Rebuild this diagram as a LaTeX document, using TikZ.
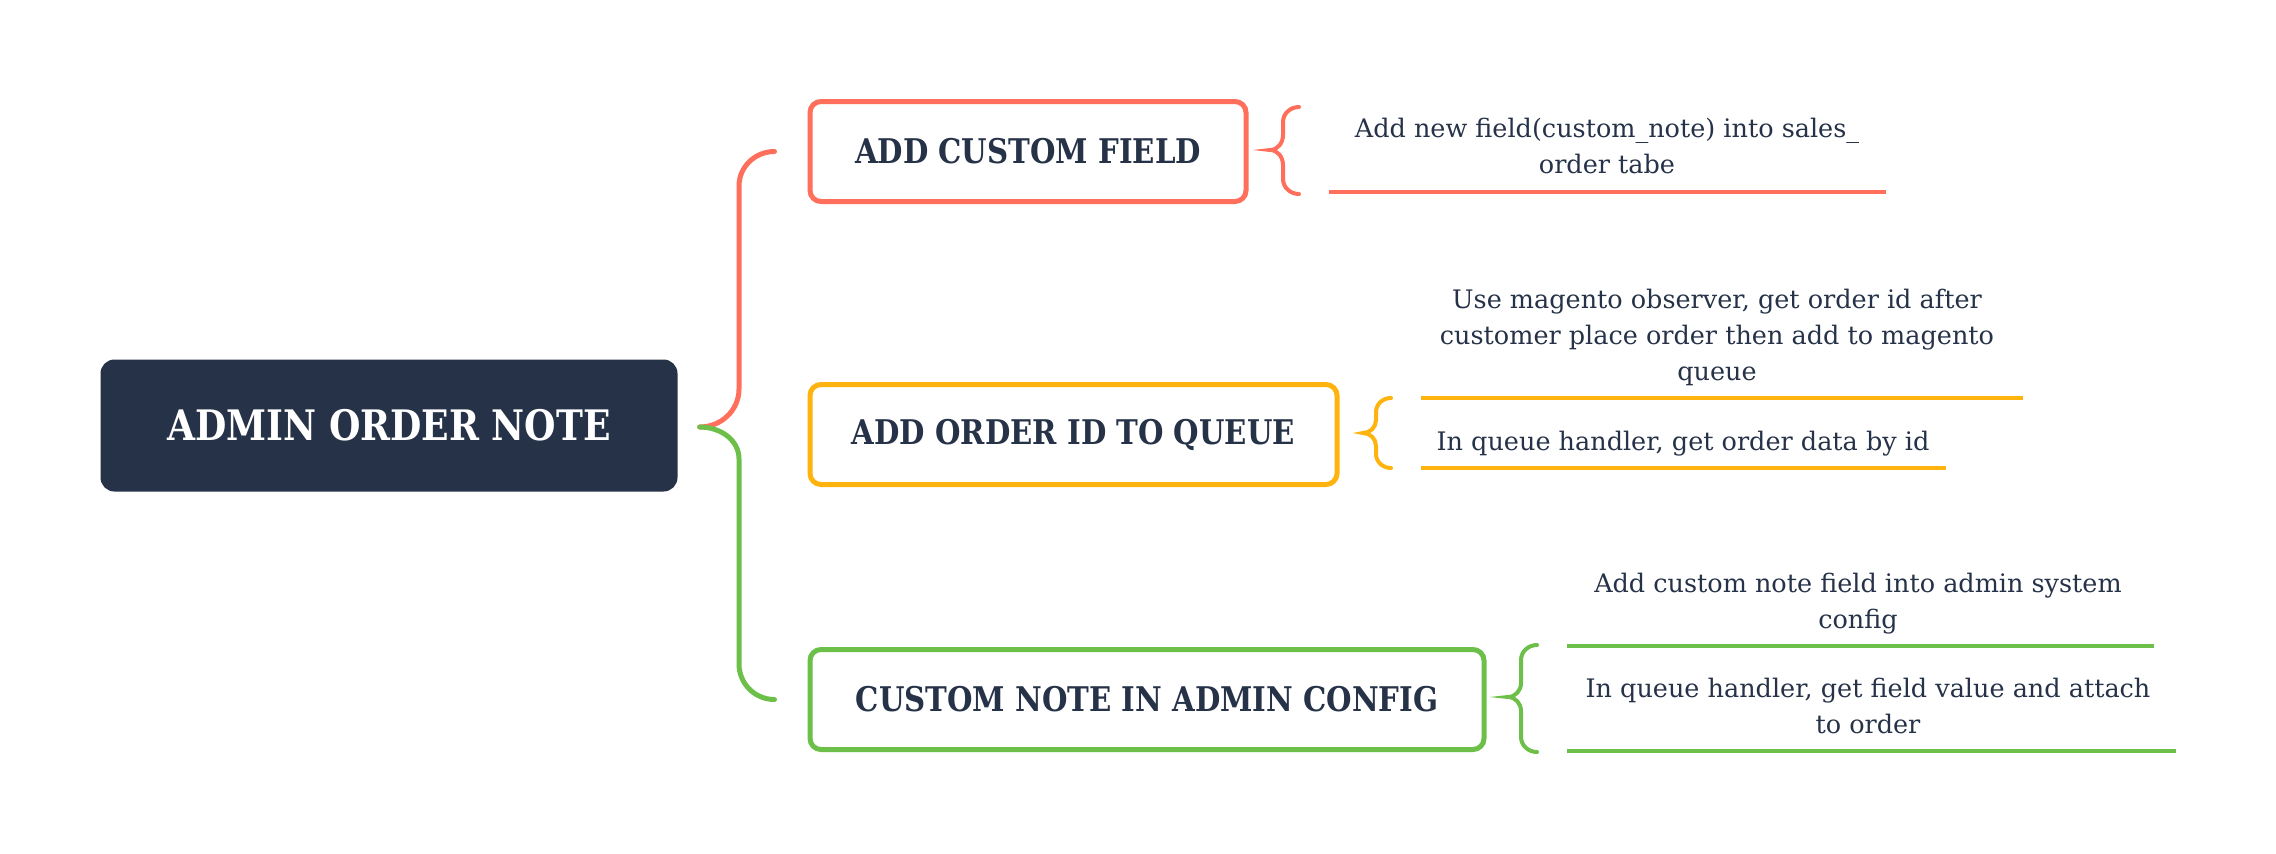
\documentclass[tikz,border=0pt]{standalone}
\usepackage{fontspec}
\setmainfont{DejaVu Serif}
\newfontfamily\headfont{DejaVu Serif}[FakeStretch=0.86]
\definecolor{navy}{HTML}{263248}
\definecolor{cred}{HTML}{FF6F5C}
\definecolor{corange}{HTML}{FFB30F}
\definecolor{cgreen}{HTML}{6CC04A}
\tikzset{
  rootbox/.style={fill=navy, rounded corners=14pt, minimum width=577pt, minimum height=132pt, text=white, font=\headfont\bfseries\fontsize{42}{50}\selectfont, inner sep=0pt},
  topicbox/.style={draw=#1, line width=5pt, fill=white, rounded corners=11pt, minimum height=100pt, text=navy, font=\headfont\bfseries\fontsize{34}{40}\selectfont, inner sep=0pt},
  conn/.style={draw=#1, line width=5pt, line cap=round},
  bracestyle/.style={draw=#1, line width=4pt, line cap=round},
  ruleline/.style={draw=#1, line width=4pt},
  desc/.style={text=navy, font=\fontsize{25.5}{36}\selectfont, align=center, inner sep=0pt, anchor=base},
}
\begin{document}
\begin{tikzpicture}[x=1pt,y=-1pt]
\useasboundingbox (0,0) rectangle (2276,854);
% root
\node[rootbox] (root) at (389,425.5) {ADMIN ORDER NOTE};
% topic boxes
\node[topicbox=cred, minimum width=436pt] (t1) at (1028,151.5) {ADD CUSTOM FIELD};
\node[topicbox=corange, minimum width=527pt] (t2) at (1073.5,434.5) {ADD ORDER ID TO QUEUE};
\node[topicbox=cgreen, minimum width=674pt] (t3) at (1147,699.5) {CUSTOM NOTE IN ADMIN CONFIG};
% junction coordinates
\coordinate (j) at ([xshift=22pt,yshift=-1.5pt]root.east);
\coordinate (e1) at ([xshift=-33pt]t1.west);
\coordinate (e3) at ([xshift=-33pt]t3.west);
\draw[conn=cred] (j) to[out=0,in=-90] (739,389) -- (739,186) to[out=90,in=180] (e1);
\draw[conn=cgreen] (j) to[out=0,in=90] (739,459) -- (739,664) to[out=-90,in=180] (e3);
% braces
\draw[bracestyle=cred] (1299,107) to[out=180,in=90] (1283,122) -- (1283,135) to[out=-90,in=0] (1270,150) to[out=0,in=90] (1283,165) -- (1283,179) to[out=-90,in=180] (1299,194);
\draw[bracestyle=corange] (1391,398) to[out=180,in=90] (1376,412) -- (1376,420) to[out=-90,in=0] (1363,433) to[out=0,in=90] (1376,446) -- (1376,454) to[out=-90,in=180] (1391,468);
\draw[bracestyle=cgreen] (1537,645) to[out=180,in=90] (1521,660) -- (1521,683) to[out=-90,in=0] (1508,697) to[out=0,in=90] (1521,711) -- (1521,737) to[out=-90,in=180] (1537,752);
% descriptions
\node[desc] (d1) at (1607,173) {Add new field(custom\_note) into sales\_\\order tabe};
\coordinate (u1a) at (1329,192); \coordinate (u1b) at (1886,192);
\draw[ruleline=cred] (u1a) -- (u1b);
\node[desc] (d2) at (1717,380) {Use magento observer, get order id after\\customer place order then add to magento\\queue};
\coordinate (u2a) at (1421,398); \coordinate (u2b) at (2023,398);
\draw[ruleline=corange] (u2a) -- (u2b);
\node[desc] (d3) at (1683,450) {In queue handler, get order data by id};
\coordinate (u3a) at (1421,468); \coordinate (u3b) at (1946,468);
\draw[ruleline=corange] (u3a) -- (u3b);
\node[desc] (d4) at (1858,628) {Add custom note field into admin system\\config};
\coordinate (u4a) at (1567,646); \coordinate (u4b) at (2154,646);
\draw[ruleline=cgreen] (u4a) -- (u4b);
\node[desc] (d5) at (1868,733) {In queue handler, get field value and attach\\to order};
\coordinate (u5a) at (1567,751); \coordinate (u5b) at (2176,751);
\draw[ruleline=cgreen] (u5a) -- (u5b);
\end{tikzpicture}
\end{document}
